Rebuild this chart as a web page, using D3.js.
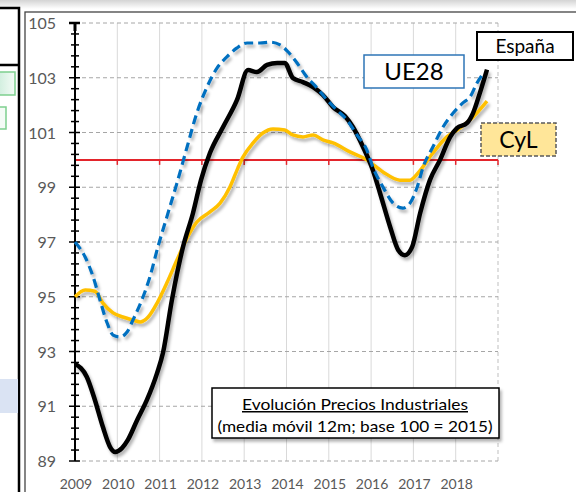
<!DOCTYPE html>
<html>
<head>
<meta charset="utf-8">
<script src="https://cdn.jsdelivr.net/npm/d3@7"></script>
<style>
body{margin:0;background:#fff}
svg{display:block}
</style>
</head>
<body>
<div class="container"></div>
<script>
// tick labels
var years = [2009, 2010, 2011, 2012, 2013, 2014, 2015, 2016, 2017, 2018];
var yLabels = [89, 91, 93, 95, 97, 99, 101, 103, 105];
var baseValue = 100;

// España (black)
var espanaT = [2009.0, 2009.28, 2009.47, 2009.66, 2009.83, 2009.95, 2010.11, 2010.25, 2010.47, 2010.7,
	2010.94, 2011.08, 2011.29, 2011.55, 2011.79, 2011.98, 2012.19, 2012.5, 2012.83, 2013.09,
	2013.3, 2013.54, 2013.78, 2013.96, 2014.15, 2014.39, 2014.63, 2014.86, 2015.1, 2015.38,
	2015.57, 2015.81, 2016.04, 2016.21, 2016.45, 2016.64, 2016.8, 2016.97, 2017.16, 2017.39,
	2017.63, 2017.87, 2018.03, 2018.27, 2018.41, 2018.57, 2018.74];
var espanaV = [92.55, 92.07, 91.23, 90.24, 89.51, 89.33, 89.47, 89.77, 90.5, 91.23,
	92.21, 92.95, 94.88, 96.8, 98.06, 99.27, 100.25, 101.2, 102.19, 103.28,
	103.21, 103.47, 103.54, 103.54, 102.99, 102.84, 102.66, 102.37, 101.93, 101.6,
	101.2, 100.47, 99.63, 98.79, 97.55, 96.71, 96.52, 96.82, 98.06, 99.26,
	100.0, 100.84, 101.16, 101.35, 101.71, 102.44, 103.3];

// UE28 (blue dashed)
var ue28T = [2009.0, 2009.24, 2009.43, 2009.59, 2009.76, 2009.9, 2010.06, 2010.23, 2010.37, 2010.58,
	2010.77, 2010.96, 2011.17, 2011.41, 2011.65, 2011.88, 2012.12, 2012.36, 2012.59, 2012.83,
	2013.07, 2013.37, 2013.61, 2013.85, 2014.04, 2014.25, 2014.48, 2014.72, 2014.96, 2015.19,
	2015.43, 2015.67, 2015.9, 2016.04, 2016.28, 2016.52, 2016.75, 2016.92, 2017.09, 2017.23,
	2017.46, 2017.7, 2017.94, 2018.17, 2018.34, 2018.5, 2018.67];
var ue28V = [97.0, 96.45, 95.72, 94.88, 94.04, 93.6, 93.53, 93.71, 94.15, 94.88,
	95.72, 96.82, 97.91, 99.15, 100.47, 101.71, 102.66, 103.36, 103.76, 104.09,
	104.27, 104.27, 104.3, 104.2, 103.94, 103.54, 103.03, 102.63, 102.19, 101.82,
	101.46, 100.9, 100.36, 99.74, 99.01, 98.42, 98.24, 98.42, 99.01, 99.74,
	100.47, 101.2, 101.71, 102.08, 102.3, 102.8, 103.2];

// CyL (yellow)
var cylT = [2009.0, 2009.24, 2009.47, 2009.66, 2009.9, 2010.13, 2010.37, 2010.54, 2010.73, 2010.94,
	2011.17, 2011.41, 2011.65, 2011.88, 2012.19, 2012.43, 2012.66, 2012.85, 2012.97, 2013.21,
	2013.44, 2013.68, 2013.96, 2014.15, 2014.39, 2014.63, 2014.86, 2015.1, 2015.5, 2015.9,
	2016.28, 2016.68, 2016.92, 2017.11, 2017.46, 2017.79, 2018.1, 2018.41, 2018.74];
var cylV = [95.0, 95.25, 95.2, 94.77, 94.41, 94.26, 94.15, 94.08, 94.26, 94.77,
	95.5, 96.34, 97.15, 97.73, 98.1, 98.42, 99.0, 99.7, 100.1, 100.62,
	100.98, 101.13, 101.09, 100.91, 100.84, 100.91, 100.73, 100.62, 100.29, 100.0,
	99.56, 99.26, 99.26, 99.52, 100.25, 100.84, 101.16, 101.57, 102.15];

var W = 576, H = 492;
var svg = d3.select('.container').append('svg')
	.attr('width', W)
	.attr('height', H)
	.style('font-family', 'Lato, "Open Sans", sans-serif');

var defs = svg.append('defs');
var shadow = defs.append('filter').attr('id', 'shadow')
	.attr('x', '-10%').attr('y', '-10%').attr('width', '130%').attr('height', '130%');
shadow.append('feDropShadow')
	.attr('dx', 2).attr('dy', 3).attr('stdDeviation', 1.5)
	.attr('flood-color', '#000').attr('flood-opacity', 0.3);

var topGrad = defs.append('linearGradient').attr('id', 'topGrad')
	.attr('x1', 0).attr('y1', 0).attr('x2', 0).attr('y2', 1);
topGrad.append('stop').attr('offset', '0%').attr('stop-color', '#d4d4d4');
topGrad.append('stop').attr('offset', '100%').attr('stop-color', '#ffffff');

var greenGrad = defs.append('linearGradient').attr('id', 'greenGrad')
	.attr('x1', 0).attr('y1', 0).attr('x2', 1).attr('y2', 0);
greenGrad.append('stop').attr('offset', '0%').attr('stop-color', '#cfeedd');
greenGrad.append('stop').attr('offset', '100%').attr('stop-color', '#f4fbf6');

// page pieces around the chart (neighbouring objects cut off)
svg.append('rect').attr('x', 0).attr('y', 0).attr('width', W).attr('height', 9).attr('fill', 'url(#topGrad)');
svg.append('rect').attr('x', 0).attr('y', 8).attr('width', 19).attr('height', H).attr('fill', '#fff');
svg.append('path').attr('d', 'M0,8H19V' + H + 'M0,65H19')
	.attr('fill', 'none').attr('stroke', '#000').attr('stroke-width', 2.5);
svg.append('rect').attr('x', -2).attr('y', 72).attr('width', 17).attr('height', 23)
	.attr('fill', 'url(#greenGrad)').attr('stroke', '#7dcf8e').attr('stroke-width', 1.5);
svg.append('rect').attr('x', -2).attr('y', 107).attr('width', 8).attr('height', 22)
	.attr('fill', '#f4fbf6').attr('stroke', '#7dcf8e').attr('stroke-width', 1.5);
svg.append('rect').attr('x', 0).attr('y', 379).attr('width', 18).attr('height', 34).attr('fill', '#dae3f3');

// chart frame
svg.append('rect').attr('x', 25).attr('y', 12).attr('width', W).attr('height', H)
	.attr('fill', '#fff').attr('stroke', '#444').attr('stroke-width', 1.3);

var x = d3.scaleLinear().domain([2009, 2019]).range([75, 498]);
var y = d3.scaleLinear().domain([89, 105]).range([461, 23]);

// vertical grid
svg.append('g').selectAll('line').data(years.slice(1)).enter().append('line')
	.attr('x1', function(d){ return x(d); })
	.attr('x2', function(d){ return x(d); })
	.attr('y1', y(105)).attr('y2', y(89))
	.attr('stroke', '#d9d9d9').attr('stroke-width', 1);
svg.append('line')
	.attr('x1', x(2019)).attr('x2', x(2019)).attr('y1', y(105)).attr('y2', y(89))
	.attr('stroke', '#bfbfbf').attr('stroke-dasharray', '4,3');

// horizontal dashed grid
svg.append('g').selectAll('line').data(yLabels).enter().append('line')
	.attr('x1', x(2009)).attr('x2', x(2019))
	.attr('y1', function(d){ return y(d); })
	.attr('y2', function(d){ return y(d); })
	.attr('stroke', '#a6a6a6').attr('stroke-width', 1).attr('stroke-dasharray', '4,3');

// base 100 line with year ticks
var red = '#e3242b';
svg.append('line')
	.attr('x1', x(2009)).attr('x2', x(2019))
	.attr('y1', y(baseValue)).attr('y2', y(baseValue))
	.attr('stroke', red).attr('stroke-width', 2);
svg.append('g').selectAll('line').data(years.slice(1).concat([2019])).enter().append('line')
	.attr('x1', function(d){ return x(d); })
	.attr('x2', function(d){ return x(d); })
	.attr('y1', y(baseValue)).attr('y2', y(baseValue) + 5)
	.attr('stroke', red).attr('stroke-width', 1.5);

// y axis
var minorTicks = d3.range(0, 41).map(function(i){ return 89 + i * 0.4; });
svg.append('line').attr('x1', 75).attr('x2', 75).attr('y1', y(105)).attr('y2', y(89))
	.attr('stroke', '#000').attr('stroke-width', 2);
svg.append('g').selectAll('line').data(minorTicks).enter().append('line')
	.attr('x1', function(d, i){ return i % 5 === 0 ? 69 : 71; })
	.attr('x2', function(d, i){ return i % 5 === 0 ? 80 : 79; })
	.attr('y1', function(d){ return y(d); })
	.attr('y2', function(d){ return y(d); })
	.attr('stroke', '#000').attr('stroke-width', function(d, i){ return i === 40 ? 2.5 : 1.5; });
svg.append('line').attr('x1', 75).attr('x2', 75).attr('y1', y(105)).attr('y2', y(105) + 8)
	.attr('stroke', '#000').attr('stroke-width', 3);

svg.append('g').selectAll('text').data(yLabels).enter().append('text')
	.attr('x', 56)
	.attr('y', function(d){ return y(d) + 6; })
	.attr('text-anchor', 'end')
	.attr('fill', '#595959')
	.style('font-size', '16px')
	.text(function(d){ return d; });

svg.append('g').selectAll('text').data(years).enter().append('text')
	.attr('x', function(d){ return x(d) + 1; })
	.attr('y', 489)
	.attr('text-anchor', 'middle')
	.attr('fill', '#595959')
	.style('font-size', '14px')
	.text(function(d){ return d; });

// series
function pts(t, v){
	return t.map(function(d, i){ return [d, v[i]]; });
}
var line = d3.line()
	.x(function(d){ return x(d[0]); })
	.y(function(d){ return y(d[1]); })
	.curve(d3.curveMonotoneX);

var series = svg.append('g').attr('filter', 'url(#shadow)');
series.append('path').datum(pts(cylT, cylV))
	.attr('d', line).attr('fill', 'none')
	.attr('stroke', '#ffc000').attr('stroke-width', 3.5).attr('stroke-linejoin', 'round');
series.append('path').datum(pts(espanaT, espanaV))
	.attr('d', line).attr('fill', 'none')
	.attr('stroke', '#000').attr('stroke-width', 4.5).attr('stroke-linejoin', 'round');
series.append('path').datum(pts(ue28T, ue28V))
	.attr('d', line).attr('fill', 'none')
	.attr('stroke', '#0070c0').attr('stroke-width', 3.2).attr('stroke-dasharray', '9,5');

// labels
function labelBox(bx, by, bw, bh, txt, size, stroke, fill, dash, sw){
	var g = svg.append('g');
	g.append('rect').attr('x', bx).attr('y', by).attr('width', bw).attr('height', bh)
		.attr('fill', fill).attr('stroke', stroke).attr('stroke-width', sw || 1.5)
		.attr('stroke-dasharray', dash || null);
	g.append('text').attr('x', bx + bw / 2).attr('y', by + bh / 2)
		.attr('dy', '0.36em')
		.attr('text-anchor', 'middle').attr('fill', '#000')
		.style('font-size', size + 'px')
		.text(txt);
}
labelBox(477, 32, 96, 28, 'España', 19, '#000', '#fff', null, 2);
labelBox(364, 55, 100, 33, 'UE28', 24, '#2e75b6', '#fff');
labelBox(481, 123, 75, 33, 'CyL', 23, '#595959', '#ffe699', '4,2');

// title box
var tb = svg.append('g');
tb.append('rect').attr('x', 212).attr('y', 388).attr('width', 287).attr('height', 50)
	.attr('fill', '#fff').attr('stroke', '#000').attr('stroke-width', 1.5)
	.attr('filter', 'url(#shadow)');
tb.append('text').attr('x', 355).attr('y', 410)
	.attr('text-anchor', 'middle').style('font-size', '15px')
	.attr('text-decoration', 'underline')
	.attr('textLength', 226).attr('lengthAdjust', 'spacingAndGlyphs')
	.text('Evolución Precios Industriales');
tb.append('text').attr('x', 355).attr('y', 432)
	.attr('text-anchor', 'middle').style('font-size', '15px')
	.attr('textLength', 275).attr('lengthAdjust', 'spacingAndGlyphs')
	.text('(media móvil 12m; base 100 = 2015)');
</script>
</body>
</html>
